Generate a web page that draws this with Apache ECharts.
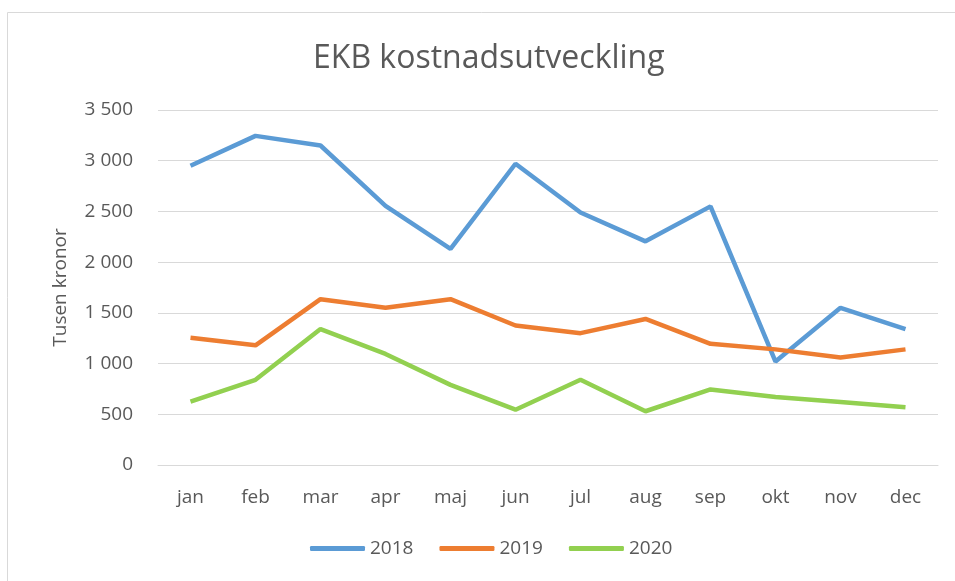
<!DOCTYPE html>
<html lang="sv">
<head>
  <meta charset="UTF-8">
  <title>EKB kostnadsutveckling</title>
  <script src="https://cdn.jsdelivr.net/npm/echarts@6/dist/echarts.min.js"></script>
  <style>
    body { margin: 0; padding: 0; background: #fff; }
    #chart { width: 955px; height: 581px; }
  </style>
</head>
<body>
  <div id="chart"></div>
  <script>
    var months = ['jan', 'feb', 'mar', 'apr', 'maj', 'jun', 'jul', 'aug', 'sep', 'okt', 'nov', 'dec'];
    var y2018 = [2950, 3245, 3150, 2555, 2130, 2970, 2490, 2205, 2550, 1020, 1550, 1340];
    var y2019 = [1255, 1180, 1635, 1550, 1635, 1375, 1300, 1440, 1195, 1140, 1060, 1140];
    var y2020 = [625, 840, 1340, 1095, 790, 545, 840, 530, 745, 670, 620, 570];

    var textColor = '#595959';
    var font = 'Open Sans';

    var chart = echarts.init(document.getElementById('chart'));

    function thousands(v) {
      return String(v).replace(/\B(?=(\d{3})+(?!\d))/g, ' ');
    }

    function lineSeries(name, data, color) {
      return {
        name: name,
        type: 'line',
        data: data,
        symbol: 'none',
        color: color,
        lineStyle: { width: 4.5, color: color },
        animation: false
      };
    }

    chart.setOption({
      animation: false,
      textStyle: { fontFamily: font, color: textColor },
      graphic: [{
        type: 'rect',
        shape: { x: 7.5, y: 12.5, width: 1000, height: 1000 },
        style: { fill: 'none', stroke: '#d9d9d9', lineWidth: 1 },
        silent: true
      }],
      title: {
        text: 'EKB kostnadsutveckling',
        left: 308,
        top: 38,
        textStyle: { fontFamily: font, fontSize: 32, fontWeight: 'normal', color: textColor }
      },
      grid: { left: 158, right: 17, top: 110, bottom: 116 },
      legend: {
        bottom: 18,
        left: 305,
        icon: 'roundRect',
        itemWidth: 55,
        itemHeight: 5,
        itemGap: 26,
        textStyle: { fontFamily: font, fontSize: 19, color: textColor },
        data: ['2018', '2019', '2020']
      },
      xAxis: {
        type: 'category',
        data: months,
        boundaryGap: true,
        axisLine: { lineStyle: { color: '#d9d9d9' } },
        axisTick: { show: false },
        axisLabel: { fontFamily: font, fontSize: 19, color: textColor, margin: 23 }
      },
      yAxis: {
        type: 'value',
        min: 0,
        max: 3500,
        interval: 500,
        name: 'Tusen kronor',
        nameLocation: 'middle',
        nameGap: 88,
        nameTextStyle: { fontFamily: font, fontSize: 19, color: textColor },
        axisLine: { show: false },
        axisTick: { show: false },
        splitLine: { lineStyle: { color: '#d9d9d9', width: 1 } },
        axisLabel: {
          fontFamily: font, fontSize: 19, color: textColor, margin: 25,
          formatter: thousands
        }
      },
      series: [
        lineSeries('2018', y2018, '#5B9BD5'),
        lineSeries('2019', y2019, '#ED7D31'),
        lineSeries('2020', y2020, '#92D050')
      ]
    });
  </script>
</body>
</html>
